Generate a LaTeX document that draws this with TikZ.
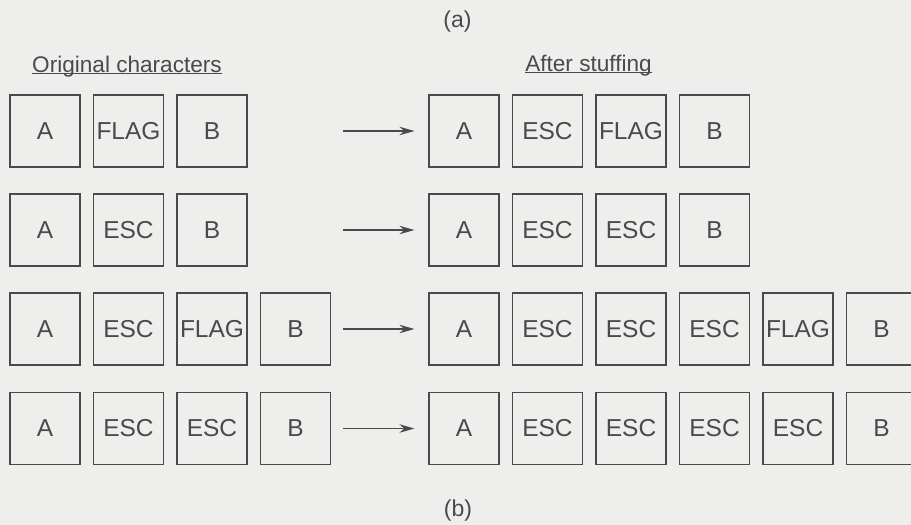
\documentclass[tikz,border=0pt]{standalone}
\usepackage{fontspec}
\setmainfont{Liberation Sans}
\usetikzlibrary{arrows.meta}
\definecolor{ink}{HTML}{4A4A4A}
\definecolor{paper}{HTML}{EEEEEC}
\begin{document}
\begin{tikzpicture}[x=1pt,y=-1pt,
  charbox/.style={draw=ink, line width=1.2pt, minimum width=70pt, minimum height=72pt,
    inner sep=0pt, text=ink, font=\fontsize{24.5}{27}\selectfont},
  heading/.style={inner sep=0pt, text=ink, font=\fontsize{22.6}{26}\selectfont, anchor=base},
  caption/.style={inner sep=0pt, text=ink, font=\fontsize{23}{26}\selectfont},
  stuffarrow/.style={draw=ink, line width=1.2pt, -{Stealth[length=15pt,width=8.5pt]}, shorten >=14pt}]
  \useasboundingbox (0,0) rectangle (911,525);
  \fill[paper] (0,0) rectangle (911,525);
  \clip (0,0) rectangle (911,525);

  % captions
  \node[caption] (capa) at (457.5,22) {(a)};
  \node[caption] (capb) at (458,511) {(b)};

  % column headings with underlines
  \node[heading] (orig) at (127,72) {Original characters};
  \node[heading] (after) at (588.5,71) {After stuffing};
  \draw[ink, line width=1.1pt] ([yshift=3.5pt]orig.south west) -- ([yshift=3.5pt]orig.south east);
  \draw[ink, line width=1.1pt] ([yshift=3.5pt]after.south west) -- ([yshift=3.5pt]after.south east);

  % row 1
  \node[charbox] (l1a) at (45,131) {A};
  \node[charbox] (l1b) at (128.5,131) {FLAG};
  \node[charbox] (l1c) at (212,131) {B};
  \node[charbox] (r1a) at (464,131) {A};
  \node[charbox] (r1b) at (547.5,131) {ESC};
  \node[charbox] (r1c) at (631,131) {FLAG};
  \node[charbox] (r1d) at (714.5,131) {B};
  \coordinate (t1) at (343,131);
  \draw[stuffarrow] (t1) -- (r1a.west);

  % row 2
  \node[charbox] (l2a) at (45,230) {A};
  \node[charbox] (l2b) at (128.5,230) {ESC};
  \node[charbox] (l2c) at (212,230) {B};
  \node[charbox] (r2a) at (464,230) {A};
  \node[charbox] (r2b) at (547.5,230) {ESC};
  \node[charbox] (r2c) at (631,230) {ESC};
  \node[charbox] (r2d) at (714.5,230) {B};
  \coordinate (t2) at (343,230);
  \draw[stuffarrow] (t2) -- (r2a.west);

  % row 3
  \node[charbox] (l3a) at (45,329) {A};
  \node[charbox] (l3b) at (128.5,329) {ESC};
  \node[charbox] (l3c) at (212,329) {FLAG};
  \node[charbox] (l3d) at (295.5,329) {B};
  \node[charbox] (r3a) at (464,329) {A};
  \node[charbox] (r3b) at (547.5,329) {ESC};
  \node[charbox] (r3c) at (631,329) {ESC};
  \node[charbox] (r3d) at (714.5,329) {ESC};
  \node[charbox] (r3e) at (798,329) {FLAG};
  \node[charbox] (r3f) at (881.5,329) {B};
  \coordinate (t3) at (343,329);
  \draw[stuffarrow] (t3) -- (r3a.west);

  % row 4
  \node[charbox] (l4a) at (45,428.5) {A};
  \node[charbox] (l4b) at (128.5,428.5) {ESC};
  \node[charbox] (l4c) at (212,428.5) {ESC};
  \node[charbox] (l4d) at (295.5,428.5) {B};
  \node[charbox] (r4a) at (464,428.5) {A};
  \node[charbox] (r4b) at (547.5,428.5) {ESC};
  \node[charbox] (r4c) at (631,428.5) {ESC};
  \node[charbox] (r4d) at (714.5,428.5) {ESC};
  \node[charbox] (r4e) at (798,428.5) {ESC};
  \node[charbox] (r4f) at (881.5,428.5) {B};
  \coordinate (t4) at (343,428.5);
  \draw[stuffarrow] (t4) -- (r4a.west);
\end{tikzpicture}
\end{document}
